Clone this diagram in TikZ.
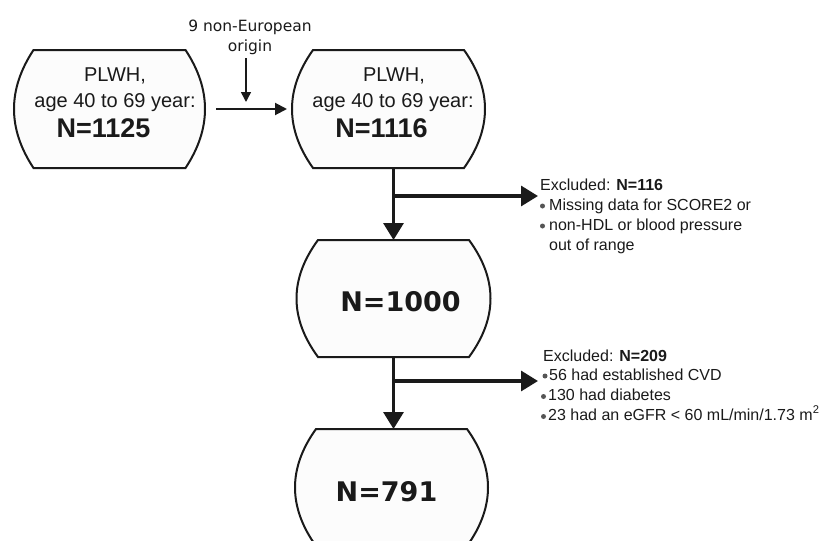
\documentclass[tikz,border=0pt]{standalone}
\usepackage{fontspec}
\setmainfont{Liberation Sans}
\newfontfamily\dvsans{DejaVu Sans}
\usetikzlibrary{arrows.meta,calc}
\definecolor{ink}{HTML}{1A1A1A}
\definecolor{dotgray}{HTML}{555555}
\definecolor{boxfill}{HTML}{FCFCFC}
\tikzset{
  boxnode/.style={draw=none, inner sep=0pt, outer sep=0pt, rectangle},
  boxline/.style={draw=ink, line width=2pt, fill=boxfill, line join=miter},
  bigarrow/.style={draw=ink, line width=3.2pt, -{Triangle[length=17pt,width=20pt]}},
  thinarrow/.style={draw=ink, line width=2pt, -{Triangle[length=12pt,width=12pt]}},
  downarrow/.style={draw=ink, line width=1.5pt, -{Triangle[length=10pt,width=10pt]}},
  lbl/.style={inner sep=0pt, text=ink, anchor=base},
  boxtxt/.style={lbl, font=\fontsize{20pt}{24pt}\selectfont},
  nbig/.style={lbl, font=\fontsize{27pt}{32pt}\selectfont\bfseries},
  nvera/.style={lbl, font=\dvsans\fontsize{27pt}{32pt}\selectfont\bfseries},
  origtxt/.style={inner sep=0pt, text=ink, align=center, font=\dvsans\fontsize{15.5pt}{19.5pt}\selectfont},
  extxt/.style={inner sep=0pt, text=ink, anchor=base west, font=\fontsize{16pt}{19pt}\selectfont},
  bulletdot/.style={circle, fill=dotgray, draw=none, inner sep=0pt, minimum size=5pt},
}
\newcommand\bulgebox[2]{%
  \path[boxline] ($(#1.north west)+(#2,0)$) -- ($(#1.north east)+(-#2,0)$)
    .. controls ($(#1.north east)!0.3333!(#1.south east)+(#2/3,0)$)
    and ($(#1.north east)!0.6667!(#1.south east)+(#2/3,0)$)
    .. ($(#1.south east)+(-#2,0)$)
    -- ($(#1.south west)+(#2,0)$)
    .. controls ($(#1.south west)!0.3333!(#1.north west)+(-#2/3,0)$)
    and ($(#1.south west)!0.6667!(#1.north west)+(-#2/3,0)$)
    .. ($(#1.north west)+(#2,0)$) -- cycle;}
\begin{document}
\begin{tikzpicture}[x=1pt,y=-1pt]
  \useasboundingbox (0,0) rectangle (825,541);
  \clip (0,0) rectangle (825,541);
  % box frames
  \node[boxnode, minimum width=191pt, minimum height=118pt] (b1) at (109.5,109) {};
  \node[boxnode, minimum width=193pt, minimum height=118pt] (b2) at (388.5,109) {};
  \node[boxnode, minimum width=194pt, minimum height=117pt] (b3) at (393.5,298.5) {};
  \node[boxnode, minimum width=193pt, minimum height=117pt] (b4) at (391.5,487.5) {};
  \bulgebox{b1}{19.5}
  \bulgebox{b2}{21}
  \bulgebox{b3}{21.5}
  \bulgebox{b4}{21}
  % box texts
  \node[boxtxt] (t1a) at (115,81.7) {PLWH,};
  \node[boxtxt] (t1b) at (115,107) {age 40 to 69 year:};
  \node[nbig] (n1) at (103.5,137.3) {N=1125};
  \node[boxtxt] (t2a) at (394,81.7) {PLWH,};
  \node[boxtxt] (t2b) at (393,107) {age 40 to 69 year:};
  \node[nbig] (n2) at (381.5,137.3) {N=1116};
  \node[nvera] (n3) at (400.5,311.7) {N=1000};
  \node[nvera] (n4) at (386.5,501.7) {N=791};
  % non-European note
  \node[origtxt, anchor=base] (orig) at (250,51) {9 non-European\\origin};
  \coordinate (jo) at (246,102);
  \coordinate (hs) at ([xshift=11pt]b1.east);
  \coordinate (he) at ([xshift=-5pt]b2.west);
  \draw[thinarrow] (hs) -- (he);
  \draw[downarrow] (jo |- 0,58) -- (jo);
  % main flow
  \draw[bigarrow] (b2.south -| b3.north) -- (b3.north);
  \coordinate (x1) at (538,196);
  \draw[bigarrow] (x1 -| b3.north) -- (x1);
  \draw[bigarrow] (b3.south) -- (b3.south |- b4.north);
  \coordinate (x2) at (538,381);
  \draw[bigarrow] (x2 -| b3.south) -- (x2);
  % exclusion block 1
  \node[extxt] (e1h) at (540,190.5) {Excluded: \textbf{N=116}};
  \node[bulletdot] (d11) at (542.5,206) {};
  \node[extxt] (e11) at (549,210.5) {Missing data for SCORE2 or};
  \node[bulletdot] (d12) at (542.5,226) {};
  \node[extxt] (e12) at (549,230.5) {non-HDL or blood pressure};
  \node[extxt] (e13) at (549,250.5) {out of range};
  % exclusion block 2
  \node[extxt] (e2h) at (543,361.5) {Excluded: \textbf{N=209}};
  \node[bulletdot] (d21) at (545,376) {};
  \node[extxt] (e21) at (549,380) {56 had established CVD};
  \node[bulletdot] (d22) at (543.5,396.5) {};
  \node[extxt] (e22) at (548,400) {130 had diabetes};
  \node[bulletdot] (d23) at (543.5,416.5) {};
  \node[extxt] (e23) at (548,420) {23 had an eGFR < 60 mL/min/1.73 m\textsuperscript{2}};
\end{tikzpicture}
\end{document}
